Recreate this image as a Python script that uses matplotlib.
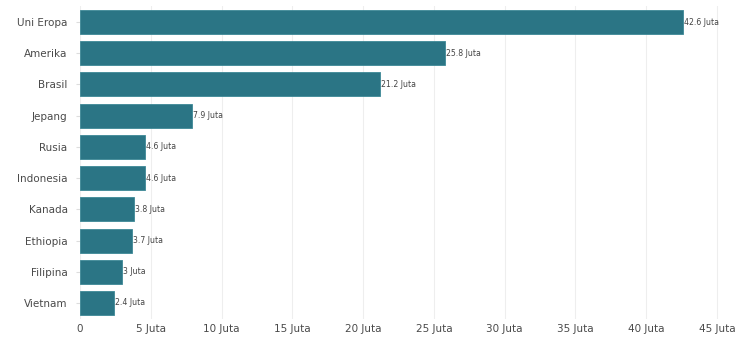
import matplotlib
matplotlib.use("Agg")
import matplotlib.pyplot as plt

countries = ["Uni Eropa", "Amerika", "Brasil", "Jepang", "Rusia", "Indonesia",
             "Kanada", "Ethiopia", "Filipina", "Vietnam"]
values = [42.6, 25.8, 21.2, 7.9, 4.6, 4.6, 3.8, 3.7, 3, 2.4]
value_labels = ["42.6 Juta", "25.8 Juta", "21.2 Juta", "7.9 Juta", "4.6 Juta",
                "4.6 Juta", "3.8 Juta", "3.7 Juta", "3 Juta", "2.4 Juta"]
xticks = [0, 5, 10, 15, 20, 25, 30, 35, 40, 45]
xticklabels = ["0", "5 Juta", "10 Juta", "15 Juta", "20 Juta", "25 Juta",
               "30 Juta", "35 Juta", "40 Juta", "45 Juta"]

plt.rcParams['font.family'] = ['DejaVu Sans']
fig = plt.figure(figsize=(7.4, 3.38), dpi=100)
ax = fig.add_axes([80/740, 19.4/338, 655/740, 312.2/338])

ypos = list(range(len(countries)))
ax.barh(ypos, values, height=0.77, color="#2b7585", edgecolor="#3d8896", linewidth=0.6, zorder=2)
for y, v, lab in zip(ypos, values, value_labels):
    ax.text(v + 0.05, y, lab, va="center", ha="left", fontsize=5.6, color="#444444")

ax.set_ylim(len(countries) - 0.5, -0.5)
ax.set_xlim(0, 46.27)
ax.set_yticks(ypos)
ax.set_yticklabels(countries, fontsize=7.5, color="#4a4a4a")
ax.set_xticks(xticks)
ax.set_xticklabels(xticklabels, fontsize=7.5, color="#4a4a4a")
ax.grid(axis="x", color="#eeeeee", linewidth=0.8, zorder=0)
for s in ax.spines.values():
    s.set_visible(False)
ax.tick_params(axis="y", length=3, color="#dddddd", pad=6)
ax.tick_params(axis="x", length=0, pad=4)

fig.savefig("out.png", dpi=100)
